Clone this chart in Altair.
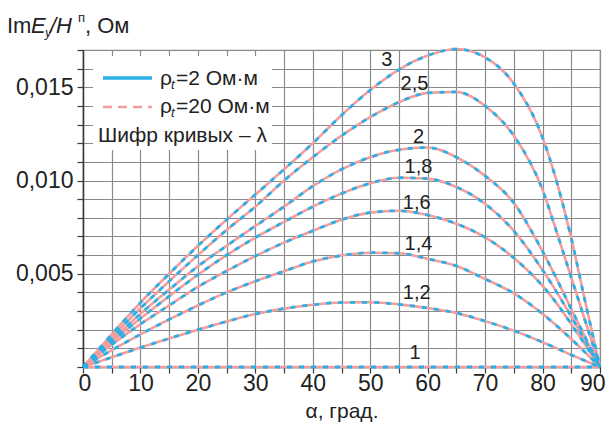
import altair as alt
import pandas as pd

# ---- data (y in units of 0.001 Ohm) ----
alpha = [0, 5, 10, 15, 20, 25, 30, 35, 40, 45, 50, 55, 60, 65, 70, 75, 80, 82.5, 85, 87.5, 90]

curve_names = ["1", "1,2", "1,4", "1,6", "1,8", "2", "2,5", "3"]

v_1_0 = [0] * 21
v_1_2 = [0, 0.52, 1.04, 1.53, 2.0, 2.44, 2.84, 3.13, 3.34, 3.46, 3.47, 3.36, 3.16, 2.9, 2.46, 1.95, 1.33, 1.0, 0.65, 0.32, 0]
v_1_4 = [0, 0.9, 1.75, 2.55, 3.3, 4.0, 4.6, 5.14, 5.66, 5.98, 6.13, 6.1, 5.8, 5.42, 4.72, 3.95, 2.85, 2.2, 1.5, 0.76, 0]
v_1_6 = [0, 1.2, 2.3, 3.3, 4.3, 5.15, 5.95, 6.67, 7.3, 7.9, 8.28, 8.38, 8.15, 7.68, 6.95, 5.85, 4.35, 3.4, 2.3, 1.15, 0]
v_1_8 = [0, 1.35, 2.6, 3.8, 4.95, 6.0, 6.94, 7.78, 8.6, 9.3, 9.85, 10.15, 10.1, 9.65, 8.75, 7.3, 5.2, 4.0, 2.7, 1.35, 0]
v_2_0 = [0, 1.45, 2.85, 4.15, 5.4, 6.5, 7.56, 8.6, 9.7, 10.6, 11.25, 11.65, 11.77, 11.25, 10.25, 8.8, 6.2, 4.7, 3.1, 1.55, 0]
v_2_5 = [0, 1.6, 3.15, 4.6, 6.0, 7.35, 8.6, 10.0, 11.25, 12.4, 13.4, 14.2, 14.7, 14.75, 14.0, 12.4, 9.5, 7.2, 4.8, 2.4, 0]
v_3_0 = [0, 1.75, 3.45, 5.0, 6.5, 7.9, 9.25, 10.6, 12.0, 13.5, 14.85, 15.95, 16.7, 17.05, 16.6, 15.2, 12.3, 9.9, 6.9, 3.4, 0]

all_values = [v_1_0, v_1_2, v_1_4, v_1_6, v_1_8, v_2_0, v_2_5, v_3_0]

# curve label anchors
label_alpha = [57.8, 58.1, 58.4, 58.1, 58.4, 58.4, 57.7, 52.9]
label_value = [0.74, 3.97, 6.58, 8.82, 10.71, 12.33, 15.2, 16.46]

x_ticks = list(range(0, 91, 5))
y_ticks = [i / 1000 for i in range(0, 18)]

BLUE = "#29b0e8"
PINK = "#f29e9e"
GRID = "#8a8a8a"
AXIS = "#3a3a3a"
FONT = "Liberation Sans"

rows = []
for name, vals in zip(curve_names, all_values):
    for a, v in zip(alpha, vals):
        rows.append({"alpha": a, "value": v / 1000.0, "curve": name})
df = pd.DataFrame(rows)

lab_df = pd.DataFrame({"alpha": label_alpha,
                       "value": [v / 1000.0 for v in label_value],
                       "text": curve_names})

xs = alt.Scale(domain=[0, 90], nice=False, zero=False)
ys = alt.Scale(domain=[0, 0.017], nice=False, zero=False)

x_axis = alt.Axis(values=x_ticks, labelExpr="round(datum.value) % 10 == 0 ? datum.label : ''",
                  grid=True, gridColor=GRID, gridWidth=1.2, gridOpacity=1,
                  domainColor=AXIS, domainWidth=1.5, tickColor=AXIS, tickWidth=1.2, tickSize=6,
                  labelFont=FONT, labelFontSize=23, labelColor="#222222", labelPadding=-1,
                  labelFlush=True, labelFlushOffset=5,
                  title="α, град.", titleFont=FONT, titleFontSize=21, titleFontWeight="normal",
                  titleColor="#222222", titlePadding=5)
y_axis = alt.Axis(values=y_ticks,
                  labelExpr="(round(datum.value*1000) % 5 == 0 && datum.value > 0) ? replace(format(datum.value, '.3f'), '.', ',') : ''",
                  grid=True, gridColor=GRID, gridWidth=1.2, gridOpacity=1,
                  domainColor=AXIS, domainWidth=1.5, tickColor=AXIS, tickWidth=1.2, tickSize=6,
                  labelFont=FONT, labelFontSize=23, labelColor="#222222", labelPadding=4,
                  title=None)

base = alt.Chart(df)
enc = dict(x=alt.X("alpha:Q", scale=xs, axis=x_axis),
           y=alt.Y("value:Q", scale=ys, axis=y_axis),
           detail="curve:N")

pink = base.mark_line(color=PINK, strokeWidth=2.6, interpolate="monotone").encode(**enc)
blue = base.mark_line(color=BLUE, strokeWidth=2.8, strokeDash=[5, 7], interpolate="monotone").encode(**enc)

labels = alt.Chart(lab_df).mark_text(font=FONT, fontSize=20, color="#222222", baseline="middle", align="center").encode(
    x=alt.X("alpha:Q", scale=xs, axis=x_axis), y=alt.Y("value:Q", scale=ys, axis=y_axis), text="text:N")

# legend box
leg_box = alt.Chart(pd.DataFrame({"k": [0]})).mark_rect(fill="white").encode(
    x=alt.value(10), x2=alt.value(189), y=alt.value(6), y2=alt.value(100))
leg_blue = alt.Chart(pd.DataFrame({"k": [0]})).mark_rule(color=BLUE, strokeWidth=3.5).encode(
    x=alt.value(20), x2=alt.value(69), y=alt.value(28))
leg_pink = alt.Chart(pd.DataFrame({"k": [0]})).mark_rule(color=PINK, strokeWidth=2.5, strokeDash=[9, 6]).encode(
    x=alt.value(20), x2=alt.value(69), y=alt.value(57))

def txt(s, x, y, size=21, style="normal", baseline="alphabetic"):
    return alt.Chart(pd.DataFrame({"t": [s]})).mark_text(
        font=FONT, fontSize=size, fontStyle=style, color="#222222", align="left", baseline=baseline
    ).encode(x=alt.value(x), y=alt.value(y), text="t:N")

leg_texts = [
    txt("ρ", 77, 35), txt("t", 88, 39, size=13, style="italic"), txt("=2 Ом·м", 93, 35),
    txt("ρ", 77, 63), txt("t", 88, 67, size=13, style="italic"), txt("=20 Ом·м", 93, 63),
    txt("Шифр кривых – λ", 15, 92),
]

# y-axis title: ImE_y/H^п, Ом
ytitle = [
    txt("Im", -76, -17, size=22), txt("E", -52, -17, size=22, style="italic"),
    txt("y", -38, -13, size=13, style="italic"), txt("/H", -33, -17, size=22, style="italic"),
    txt("п", -5, -28, size=13), txt(", Ом", 2, -17, size=22),
]

chart = alt.layer(pink, blue, labels, leg_box, leg_blue, leg_pink, *leg_texts, *ytitle).properties(
    width=517, height=317,
    padding={"left": 83, "top": 50, "right": 7, "bottom": 58},
    autosize="none",
    background="white",
).configure_view(stroke=GRID, strokeWidth=1.2)

chart.save("out.html", embed_options={"renderer": "svg", "actions": False})
